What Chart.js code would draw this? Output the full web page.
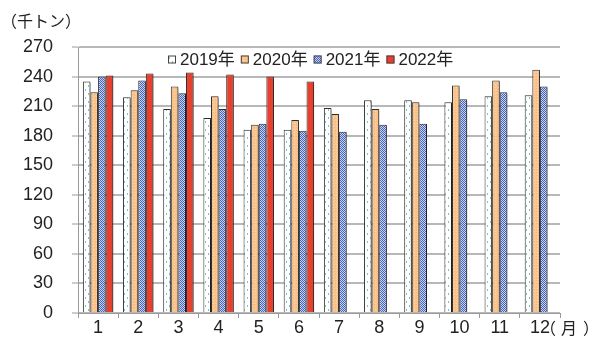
<!DOCTYPE html>
<html>
<head>
<meta charset="utf-8">
<script src="https://cdn.jsdelivr.net/npm/chart.js@4/dist/chart.umd.min.js"></script>
<style>
  html, body { margin: 0; padding: 0; background: #fff; }
  #wrap { position: relative; width: 590px; height: 337px; }
</style>
</head>
<body>
<div id="wrap"><canvas id="c"></canvas></div>
<script>
// Monthly volume, thousand tonnes
const months = ['1', '2', '3', '4', '5', '6', '7', '8', '9', '10', '11', '12'];
const seriesLabels = ['2019年', '2020年', '2021年', '2022年'];
const v2019 = [235, 219, 207, 198, 186, 186, 208, 216, 216, 214, 220, 221];
const v2020 = [224, 226, 230, 220, 191, 196, 202, 207, 214, 231, 236, 247];
const v2021 = [240, 236, 223, 207, 192, 185, 184, 191, 192, 217, 224, 230];
const v2022 = [241, 243, 244, 242, 240, 235, null, null, null, null, null, null];
const yMax = 270;
const yStep = 30;
const unitLabel = '（千トン）';
const monthUnit = ['（', '月', '）'];

const FONT = "'Liberation Sans', 'Noto Sans CJK JP', sans-serif";
const CJK = "'Noto Sans CJK JP', sans-serif";

// small tiled fills for the bars
function makePattern(w, h, paint) {
  const cv = document.createElement('canvas');
  cv.width = w; cv.height = h;
  const g = cv.getContext('2d');
  paint(g);
  return g.createPattern(cv, 'repeat');
}
const fillDots = makePattern(6, 8, g => {
  g.fillStyle = '#ffffff'; g.fillRect(0, 0, 6, 8);
  g.fillStyle = '#7cc6c8';
  g.fillRect(1, 1, 1, 2);
  g.fillRect(4, 5, 1, 2);
});
const fillOrange = makePattern(3, 3, g => {
  g.fillStyle = '#fbc48d'; g.fillRect(0, 0, 3, 3);
  g.fillStyle = '#fdd3a8'; g.fillRect(0, 0, 1, 1);
  g.fillStyle = '#f6b97c'; g.fillRect(2, 1, 1, 1);
});
const fillChecker = makePattern(2, 2, g => {
  g.fillStyle = '#c9d4f3'; g.fillRect(0, 0, 2, 2);
  g.fillStyle = '#4563c0';
  g.fillRect(0, 0, 1, 1);
  g.fillRect(1, 1, 1, 1);
});
const fillRed = '#e8402e';

const fills = [fillDots, fillOrange, fillChecker, fillRed];
const values = [v2019, v2020, v2021, v2022];

// soft drop shadow behind the bars
const barShadow = {
  id: 'barShadow',
  beforeDatasetsDraw(chart) {
    const ctx = chart.ctx;
    ctx.save();
    ctx.shadowColor = 'rgba(0,0,0,0.35)';
    ctx.shadowOffsetX = 2;
    ctx.shadowOffsetY = 1;
    ctx.shadowBlur = 1;
  },
  afterDatasetsDraw(chart) {
    chart.ctx.restore();
  }
};

// legend row inside the plot, plus the unit captions
const captions = {
  id: 'captions',
  afterDraw(chart) {
    const ctx = chart.ctx;
    ctx.save();
    ctx.textBaseline = 'middle';
    ctx.textAlign = 'left';
    ctx.fillStyle = '#222';

    ctx.font = '16px ' + CJK;
    ctx.fillText(unitLabel, 1, 21);

    // month unit after the last category label, spaced out
    ctx.font = '16px ' + CJK;
    ctx.fillText(monthUnit[0], 540, 328);
    ctx.fillText(monthUnit[1], 561, 328);
    ctx.fillText(monthUnit[2], 583, 328);

    ctx.font = '17px ' + FONT;
    let x = 168;
    const y = 59.5;
    chart.data.datasets.forEach(ds => {
      ctx.fillStyle = ds.backgroundColor;
      ctx.fillRect(x, y - 4, 8, 8);
      ctx.strokeStyle = '#444';
      ctx.lineWidth = 1;
      ctx.strokeRect(x + 0.5, y - 3.5, 7, 7);
      ctx.fillStyle = '#222';
      ctx.fillText(ds.label, x + 12, y + 1);
      x += 12 + ctx.measureText(ds.label).width + 6;
    });
    ctx.restore();
  }
};

new Chart(document.getElementById('c'), {
  type: 'bar',
  data: {
    labels: months,
    datasets: seriesLabels.map((label, i) => ({
      label,
      data: values[i],
      backgroundColor: fills[i],
      borderColor: '#2e2e2e',
      borderWidth: 1,
      borderSkipped: 'bottom',
      categoryPercentage: 0.757,
      barPercentage: 1.0
    }))
  },
  options: {
    responsive: true,
    maintainAspectRatio: false,
    animation: false,
    devicePixelRatio: 1,
    layout: { padding: { top: 47, right: 30, bottom: 0, left: 0 } },
    plugins: {
      legend: { display: false },
      tooltip: { enabled: false }
    },
    scales: {
      x: {
        offset: true,
        grid: {
          offset: true,
          drawOnChartArea: false,
          drawTicks: true,
          tickLength: 5,
          tickColor: '#9a9a9a',
          color: '#9a9a9a'
        },
        border: { color: '#9a9a9a', width: 1 },
        ticks: {
          font: { family: FONT, size: 18, lineHeight: 1.0 },
          color: '#222',
          padding: 1,
          maxRotation: 0,
          autoSkip: false
        },
        afterFit(scale) {
          scale.height = 24;
          scale.paddingLeft = 0;
          scale.paddingRight = 0;
        }
      },
      y: {
        min: 0,
        max: yMax,
        ticks: {
          stepSize: yStep,
          font: { family: FONT, size: 18 },
          color: '#222',
          padding: 19
        },
        grid: {
          color: '#b8b8b8',
          lineWidth: 2,
          tickLength: 6,
          tickColor: '#9a9a9a',
          tickWidth: 1
        },
        border: { color: '#9a9a9a', width: 1 },
        afterFit(scale) {
          scale.width = 78;
          scale.paddingTop = 0;
          scale.paddingBottom = 0;
        }
      }
    }
  },
  plugins: [barShadow, captions]
});
</script>
</body>
</html>
